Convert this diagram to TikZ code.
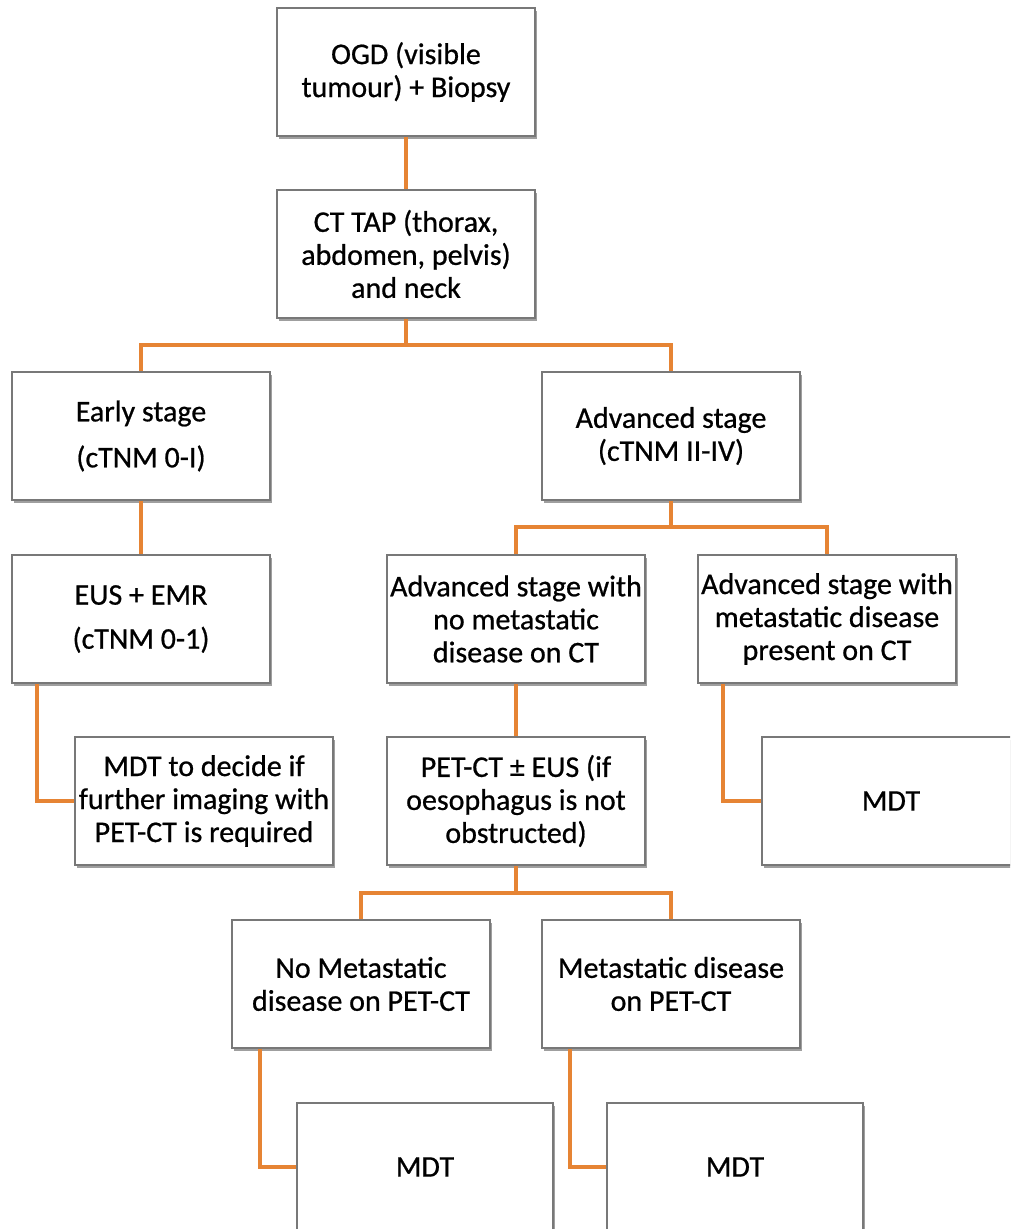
\documentclass[tikz,border=0pt]{standalone}
\usepackage{fontspec}
\setmainfont{Carlito}[FakeBold=0.7]
\usetikzlibrary{shadows}
\definecolor{lineor}{RGB}{230,132,52}
\definecolor{boxgray}{RGB}{120,120,120}
\begin{document}
\begin{tikzpicture}[x=1pt,y=1pt,
  box/.style={draw=boxgray, line width=1.3pt, fill=white, minimum width=258pt, minimum height=128pt,
    align=center, inner sep=0pt, font=\fontsize{30}{33}\selectfont,
    drop shadow={shadow xshift=1.5pt, shadow yshift=-2.5pt, fill=black!50, opacity=0.75}},
  conn/.style={draw=lineor, line width=4pt}]
\clip (0,0) rectangle (1010,-1229);
\fill[white] (0,0) rectangle (1010,-1229);
\node[box] (ogd) at (406,-72) {OGD (visible\\tumour) + Biopsy};
\node[box] (ct) at (406,-254) {CT TAP (thorax,\\abdomen, pelvis)\\and neck};
\node[box] (early) at (141,-436) {Early stage\\[13pt](cTNM 0-I)};
\node[box] (adv) at (671,-436) {Advanced stage\\(cTNM II-IV)};
\node[box] (eus) at (141,-619) {EUS + EMR\\[11pt](cTNM 0-1)};
\node[box] (advno) at (516,-619) {Advanced stage with\\no metastatic\\disease on CT};
\node[box] (advmeta) at (827,-619) {Advanced stage with\\metastatic disease\\present on CT};
\node[box] (mdtd) at (204,-801) {MDT to decide if\\further imaging with\\PET-CT is required};
\node[box] (pet) at (516,-801) {PET-CT ± EUS (if\\oesophagus is not\\obstructed)};
\node[box] (mdtr) at (891,-801) {MDT};
\node[box] (nometa) at (361,-984) {No Metastatic\\disease on PET-CT};
\node[box] (meta) at (671,-984) {Metastatic disease\\on PET-CT};
\node[box, minimum width=256pt] (mdt1) at (425,-1167) {MDT};
\node[box, minimum width=256pt] (mdt2) at (735,-1167) {MDT};
\coordinate (j1) at (406,-345);
\coordinate (j2) at (671,-527);
\coordinate (j3) at (516,-893);
\draw[conn] (ogd) -- (ct);
\draw[conn] (ct) -- (j1);
\draw[conn] (early.north) |- (j1) -| (adv.north);
\draw[conn] (early) -- (eus);
\draw[conn] (adv) -- (j2);
\draw[conn] (advno.north) |- (j2) -| (advmeta.north);
\draw[conn] ([xshift=-104pt]eus.south) |- (mdtd.west);
\draw[conn] (advno) -- (pet);
\draw[conn] ([xshift=-104pt]advmeta.south) |- (mdtr.west);
\draw[conn] (pet) -- (j3);
\draw[conn] (nometa.north) |- (j3) -| (meta.north);
\draw[conn] ([xshift=-101pt]nometa.south) |- (mdt1.west);
\draw[conn] ([xshift=-101pt]meta.south) |- (mdt2.west);
\end{tikzpicture}
\end{document}
